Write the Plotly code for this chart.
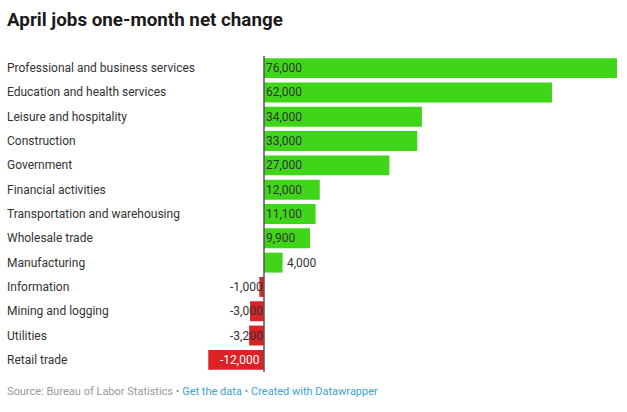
import plotly.graph_objects as go

categories = ["Professional and business services", "Education and health services",
              "Leisure and hospitality", "Construction", "Government", "Financial activities",
              "Transportation and warehousing", "Wholesale trade", "Manufacturing",
              "Information", "Mining and logging", "Utilities", "Retail trade"]
values = [76000, 62000, 34000, 33000, 27000, 12000, 11100, 9900, 4000, -1000, -3000, -3200, -12000]
value_labels = ["76,000", "62,000", "34,000", "33,000", "27,000", "12,000", "11,100", "9,900",
                "4,000", "-1,000", "-3,000", "-3,200", "-12,000"]

W, H = 627, 412
TOP, BOT = 56, 372
zero_px, max_px = 264, 617
scale = (max_px - zero_px) / 76000
xmin = -zero_px / scale
xmax = (W - zero_px) / scale


def py(p):
    return (BOT - p) / (BOT - TOP)


GREEN = "#3fd61a"
RED = "#dc2127"
colors = [GREEN if v >= 0 else RED for v in values]

fig = go.Figure(go.Bar(
    x=values, y=categories, orientation="h",
    marker=dict(color=colors, line=dict(width=0)),
    width=0.82, hoverinfo="skip"))

annotations = []
font = "Roboto, Arial, sans-serif"
for c, v, lab in zip(categories, values, value_labels):
    annotations.append(dict(x=5 / W, xref="paper", y=c, yref="y", text=c, showarrow=False,
                            xanchor="left", font=dict(family=font, size=12, color="#333333")))
    if v >= 8000:
        annotations.append(dict(x=0, y=c, text=lab, showarrow=False, xanchor="left", xshift=0,
                                font=dict(family=font, size=12, color="#333333")))
    elif v >= 0:
        annotations.append(dict(x=v, y=c, text=lab, showarrow=False, xanchor="left", xshift=2,
                                font=dict(family=font, size=12, color="#333333")))
    elif v > -8000:
        annotations.append(dict(x=0, y=c, text=lab, showarrow=False, xanchor="right", xshift=1,
                                font=dict(family=font, size=12, color="#333333")))
    else:
        annotations.append(dict(x=0, y=c, text=lab, showarrow=False, xanchor="right", xshift=-2,
                                font=dict(family=font, size=12, color="#ffffff")))

annotations.append(dict(x=5 / W, xref="paper", y=py(20), yref="paper", yanchor="middle",
                        xanchor="left", showarrow=False,
                        text="<b>April jobs one-month net change</b>",
                        font=dict(family=font, size=18.8, color="#1a1a1a")))
annotations.append(dict(x=5 / W, xref="paper", y=py(391), yref="paper", yanchor="middle",
                        xanchor="left", showarrow=False,
                        text="<span style='color:#999999'>Source: Bureau of Labor Statistics • </span>"
                             "<span style='color:#3ca3d3'>Get the data</span>"
                             "<span style='color:#999999'> • </span>"
                             "<span style='color:#3ca3d3'>Created with Datawrapper</span>",
                        font=dict(family=font, size=11)))

fig.add_shape(type="line", x0=0, x1=0, y0=-0.5, y1=len(categories) - 0.5,
              xref="x", yref="y", line=dict(color="#555555", width=1.5), layer="above")

fig.update_layout(
    width=W, height=H, margin=dict(l=0, r=0, t=TOP, b=H - BOT),
    paper_bgcolor="white", plot_bgcolor="white", showlegend=False,
    xaxis=dict(range=[xmin, xmax], visible=False, fixedrange=True),
    yaxis=dict(categoryorder="array", categoryarray=categories,
               visible=False, range=[len(categories) - 0.5, -0.5], fixedrange=True),
    annotations=annotations, bargap=0.18)

fig.write_html("out.html", config={"displayModeBar": False, "staticPlot": True},
               post_script="document.body.style.margin='0';document.body.style.overflow='hidden';")
